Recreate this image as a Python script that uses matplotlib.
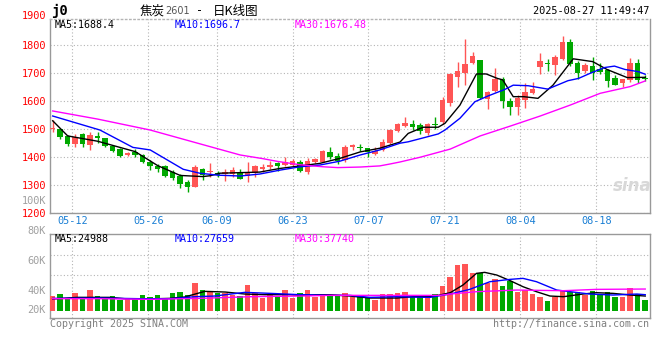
import matplotlib
matplotlib.use('Agg')
import matplotlib.pyplot as plt
import numpy as np
import pandas as pd

W, H = 660, 360

# trading days shown (06-02 was a holiday)
dates = pd.bdate_range('2025-05-07', '2025-08-27')
dates = dates[dates != pd.Timestamp('2025-06-02')]
tick_labels = ['05-12', '05-26', '06-09', '06-23', '07-07', '07-21', '08-04', '08-18']

opens = [1502, 1499, 1476, 1448, 1483, 1445, 1476, 1468, 1441, 1430,
         1407, 1418, 1407, 1383, 1370, 1369, 1347, 1333, 1313, 1295,
         1357, 1346, 1345, 1340, 1340, 1343, 1333, 1343, 1359, 1364,
         1380, 1373, 1373, 1382, 1346, 1382, 1382, 1420, 1405, 1389,
         1437, 1435, 1432, 1412, 1425, 1450, 1493, 1512, 1518, 1515,
         1485, 1517, 1526, 1594, 1685, 1699, 1735, 1747, 1606, 1637,
         1679, 1599, 1580, 1603, 1628, 1723, 1735, 1728, 1751, 1811,
         1737, 1706, 1725, 1716, 1711, 1681, 1666, 1675, 1737, 1682]
highs = [1533, 1501, 1478, 1482, 1488, 1490, 1490, 1470, 1444, 1433,
         1418, 1428, 1411, 1390, 1375, 1373, 1354, 1339, 1319, 1372,
         1360, 1380, 1352, 1359, 1364, 1357, 1383, 1372, 1376, 1388,
         1384, 1400, 1395, 1389, 1396, 1398, 1425, 1437, 1414, 1443,
         1446, 1446, 1434, 1437, 1465, 1500, 1522, 1543, 1533, 1521,
         1523, 1542, 1616, 1699, 1740, 1822, 1775, 1748, 1637, 1720,
         1687, 1610, 1621, 1663, 1668, 1773, 1749, 1765, 1832, 1820,
         1744, 1735, 1756, 1737, 1713, 1692, 1680, 1754, 1749, 1692]
lows = [1489, 1464, 1441, 1437, 1437, 1426, 1452, 1437, 1420, 1402,
        1406, 1400, 1378, 1354, 1347, 1330, 1318, 1291, 1277, 1295,
        1319, 1328, 1330, 1315, 1331, 1323, 1312, 1328, 1349, 1357,
        1350, 1369, 1367, 1346, 1339, 1379, 1382, 1394, 1377, 1382,
        1425, 1422, 1401, 1408, 1422, 1448, 1489, 1508, 1497, 1483,
        1480, 1502, 1518, 1583, 1649, 1657, 1732, 1609, 1571, 1632,
        1574, 1552, 1550, 1575, 1624, 1697, 1708, 1692, 1747, 1725,
        1678, 1701, 1675, 1697, 1649, 1656, 1651, 1668, 1666, 1673]
closes = [1504, 1473, 1447, 1473, 1446, 1480, 1469, 1441, 1423, 1405,
          1416, 1407, 1382, 1370, 1358, 1334, 1325, 1304, 1295, 1364,
          1337, 1352, 1336, 1347, 1354, 1324, 1347, 1369, 1364, 1372,
          1369, 1383, 1385, 1351, 1387, 1394, 1422, 1401, 1387, 1438,
          1442, 1433, 1420, 1422, 1453, 1498, 1517, 1522, 1509, 1494,
          1518, 1515, 1603, 1696, 1709, 1732, 1761, 1610, 1632, 1679,
          1599, 1580, 1611, 1632, 1644, 1743, 1731, 1756, 1811, 1732,
          1701, 1728, 1699, 1704, 1673, 1659, 1678, 1737, 1675, 1680]
# volume, thousand lots
volumes = [26.4, 30.0, 21.0, 31.8, 22.2, 37.2, 26.4, 23.4, 26.4, 19.8,
           23.4, 20.4, 27.6, 24.0, 27.6, 22.2, 31.8, 33.6, 27.6, 50.4,
           37.2, 34.8, 31.2, 32.4, 27.6, 26.4, 46.2, 32.4, 23.4, 27.6,
           25.2, 37.2, 23.4, 32.4, 37.2, 25.2, 30.0, 28.2, 28.2, 32.4,
           25.2, 26.4, 24.0, 19.2, 30.0, 30.0, 32.4, 34.2, 25.2, 25.2,
           28.2, 30.0, 45.0, 61.2, 82.2, 84.6, 68.4, 67.2, 50.4, 57.0,
           45.0, 53.4, 34.2, 37.2, 30.0, 25.2, 17.4, 24.0, 36.0, 34.2,
           34.2, 28.2, 36.0, 28.2, 34.2, 25.2, 25.2, 40.8, 30.0, 19.2]

# moving averages (candle index, value)
ma5_at = [0, 2, 6, 11, 14, 17, 20, 21, 22.3, 25, 27.6, 30.3, 33, 35.6, 38.3, 41,
          43.6, 46.3, 47.4, 49.4, 51.4, 52.3, 54.3, 56.5, 57.8, 59.3, 60, 61.4,
          62.8, 64.7, 66.7, 69.4, 72, 73.9, 76.6, 79]
ma5 = [1530, 1476, 1457, 1420, 1370, 1335, 1331, 1334, 1343, 1345, 1347, 1360,
       1369, 1378, 1396, 1419, 1432, 1454, 1485, 1507, 1507, 1521, 1586, 1697,
       1697, 1681, 1676, 1616, 1616, 1610, 1657, 1751, 1741, 1713, 1684, 1685]
ma10_at = [0, 6.3, 10.7, 13, 17.4, 19.6, 22, 25, 27.6, 30.3, 33, 35.6, 38.3, 41,
           43.6, 46.3, 47.4, 51.4, 52.3, 54.3, 56.3, 58, 60.3, 61.4, 63.4, 66,
           68.7, 70.1, 71.8, 73.6, 74.9, 76.3, 78.1, 79]
ma10 = [1547, 1497, 1435, 1426, 1357, 1343, 1336, 1333, 1340, 1354, 1366, 1372,
        1386, 1408, 1426, 1450, 1455, 1483, 1497, 1539, 1598, 1618, 1642, 1657,
        1655, 1643, 1673, 1681, 1701, 1720, 1725, 1713, 1705, 1696]
ma30_at = [0, 6, 13, 20, 25, 28, 30, 33, 36, 38, 41, 43.6, 45, 46.3, 49, 53, 57,
           61, 65, 69, 73, 77, 79]
ma30 = [1565, 1536, 1497, 1445, 1408, 1395, 1385, 1373, 1366, 1363, 1365, 1369,
        1376, 1383, 1400, 1429, 1476, 1511, 1547, 1586, 1628, 1652, 1672]

vma5_at = [0, 3.2, 7.6, 9.6, 12.3, 15.6, 17.6, 19, 20.3, 23, 25.6, 28.3, 31.6, 33,
           35.6, 37, 39.6, 42.3, 45.9, 48, 50.3, 51.6, 53, 54.7, 56.5, 57.6, 59.2,
           61, 62.7, 64.5, 66.3, 68.1, 70.7, 72.5, 74.7, 77, 79]
vma5 = [21, 24, 24, 21.6, 21, 22.2, 24.6, 30, 34.8, 33.6, 30, 28.8, 28.8, 27.6,
        28.8, 28.8, 26.4, 22.8, 22.8, 25.2, 25.2, 28.2, 32.4, 46.2, 67.2, 69, 64.2,
        54, 43.2, 34.2, 26.4, 25.2, 30, 32.4, 31.2, 28.2, 26.4]
vma10_at = [0, 6.3, 11.6, 15.6, 19, 21.6, 25.6, 29, 33, 37, 39.6, 42.3, 45.9, 50.3,
            53, 55.6, 58.3, 61, 62.7, 64.5, 67.2, 69, 71.6, 74.7, 77.9, 79]
vma10 = [22.2, 22.8, 21.6, 21.6, 25.2, 26.4, 33, 31.2, 28.8, 27.6, 27.6, 24, 25.2,
         24, 30, 38.4, 52.2, 56.4, 58.2, 52.2, 37.2, 34.2, 30, 28.2, 30, 28.8]
vma30_at = [0, 6.3, 13, 19.6, 26.3, 33, 37, 51.6, 53, 56.5, 61.9, 68.1, 72.5, 79]
vma30 = [21.6, 21.6, 20.4, 22.2, 25.2, 26.4, 27.6, 27.6, 30, 34.2, 37.2, 36, 38.4, 39]

RED = '#ff5555'
GREEN = '#00a800'
GRID = '#b4b4b4'
FRAME = '#999999'
MONO = 'DejaVu Sans Mono'
plt.rcParams['font.family'] = ['Noto Sans CJK SC', 'DejaVu Sans']


def px(x, y):
    return x / W, 1 - y / H


n = len(dates)
x = np.arange(n)
o, c = np.array(opens), np.array(closes)
up = c >= o
colors = np.where(up, RED, GREEN)

# Sina spreads the date grid over n-1 slots, so it drifts slightly off the candles
tick_idx = [list(dates.strftime('%m-%d')).index(t) for t in tick_labels]
grid_x = np.array(tick_idx) * n / (n - 1) - 0.43

fig = plt.figure(figsize=(W / 100, H / 100), dpi=100)

# ---- price panel
ax = fig.add_axes([50 / W, 1 - 213.3 / H, 599.5 / W, 194.3 / H])
ax.set_xlim(-0.36, 79.57)
ax.set_ylim(1200, 1893)
ax.vlines(x, lows, highs, colors=colors, lw=1, zorder=2)
body = np.maximum(np.abs(c - o), 2.5)
ax.bar(x, body, bottom=np.minimum(o, c), width=0.74, color=colors, lw=0, zorder=3)
ax.plot(ma5_at, ma5, color='black', lw=1, zorder=4)
ax.plot(ma10_at, ma10, color='#0000ff', lw=1, zorder=4)
ax.plot(ma30_at, ma30, color='#ff00ff', lw=1, zorder=4)

ax.set_yticks(range(1200, 1900, 100))
ax.set_yticklabels([str(v) for v in range(1200, 1900, 100)], color='#ff0000',
                   family=MONO, fontsize=7.4)
ax.set_xticks(grid_x)
ax.set_xticklabels(tick_labels, color='#1a7fd4', family=MONO, fontsize=7.4)
ax.tick_params(length=0, pad=2.6)
ax.tick_params(axis='x', pad=1.8)
ax.grid(True, color=GRID, ls=(0, (1, 2)), lw=0.8)
ax.set_axisbelow(True)
for s in ax.spines.values():
    s.set_color(FRAME)
    s.set_linewidth(1)
ax.spines['top'].set_linestyle((0, (1, 2)))
ax.spines['top'].set_color(GRID)

# ---- volume panel
vax = fig.add_axes([50 / W, 1 - 317.7 / H, 599.5 / W, 83.4 / H])
vax.set_xlim(-0.36, 79.57)
vax.set_ylim(-12.6, 137.5)
vax.bar(x, volumes, width=0.74, color=colors, lw=0, zorder=3)
vax.plot(vma5_at, vma5, color='black', lw=1, zorder=4)
vax.plot(vma10_at, vma10, color='#0000ff', lw=1, zorder=4)
vax.plot(vma30_at, vma30, color='#ff00ff', lw=1, zorder=4)
vax.set_xticks(grid_x)
vax.set_yticks([99.7, 64.0])
vax.tick_params(length=0, labelbottom=False, labelleft=False)
vax.grid(True, color=GRID, ls=(0, (1, 2)), lw=0.8)
vax.set_axisbelow(True)
for s in vax.spines.values():
    s.set_color(FRAME)
    s.set_linewidth(1)

# ---- texts
fig.text(*px(51, 11), 'j0', family=MONO, fontweight='bold', fontsize=10, va='center')
fig.text(*px(140, 11), '焦炭', fontsize=9, va='center')
fig.text(*px(165, 11.5), '2601', fontsize=7, color='#555555', va='center', family='DejaVu Sans')
fig.text(*px(196, 11), '-', fontsize=8.5, va='center', family=MONO)
fig.text(*px(213, 11), '日K线图', fontsize=9, va='center')
fig.text(*px(649, 11), '2025-08-27 11:49:47', family=MONO, fontsize=7.4, ha='right', va='center')
fig.text(*px(46, 16), '1900', family=MONO, fontsize=7.4, color='#ff0000', ha='right', va='center')
fig.text(*px(46, 201), '100K', family=MONO, fontsize=7.4, color='#a0a0a0', ha='right', va='center')

for xp, label, col in [(55, 'MA5:1688.4', 'black'), (175, 'MA10:1696.7', '#0000ff'),
                       (295, 'MA30:1676.48', '#ff00ff')]:
    fig.text(*px(xp, 24.5), label, family=MONO, fontsize=7.2, color=col, va='center')
for xp, label, col in [(55, 'MA5:24988', 'black'), (175, 'MA10:27659', '#0000ff'),
                       (295, 'MA30:37740', '#ff00ff')]:
    fig.text(*px(xp, 238.5), label, family=MONO, fontsize=7.2, color=col, va='center')
for yp, label in [(231, '80K'), (261, '60K'), (290.7, '40K'), (310, '20K')]:
    fig.text(*px(46, yp), label, family=MONO, fontsize=7.4, color='#a0a0a0', ha='right', va='center')

fig.text(*px(50, 324), 'Copyright 2025 SINA.COM', family=MONO, fontsize=7.2, color='#808080', va='center')
fig.text(*px(649, 324), 'http://finance.sina.com.cn', family=MONO, fontsize=7.2,
         color='#808080', ha='right', va='center')
fig.text(*px(632, 186), 'sina', fontsize=12, fontstyle='italic', fontweight='bold',
         color='#d8d8d8', ha='center', va='center', family='DejaVu Sans')

fig.savefig('out.png', dpi=100)
